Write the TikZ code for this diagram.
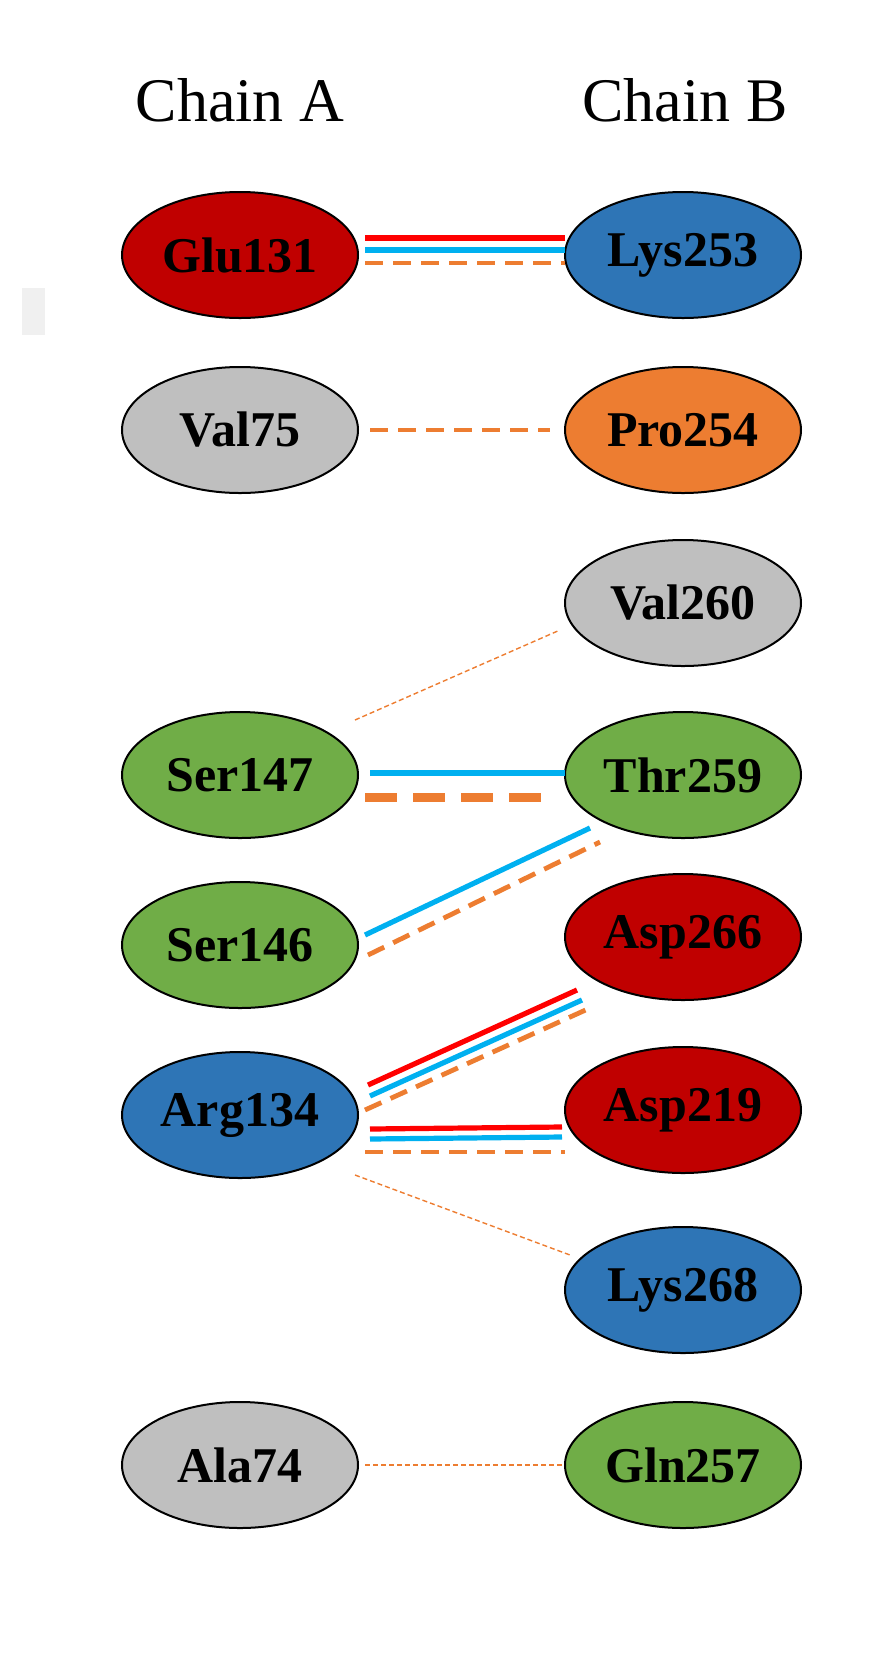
\documentclass[tikz,border=0pt]{standalone}
\usepackage{fontspec}
\setmainfont{Liberation Serif}
\usetikzlibrary{shapes.geometric}
\begin{document}
\begin{tikzpicture}[x=0.5pt,y=-0.5pt,
 res/.style={ellipse,draw=black,line width=1pt,minimum width=118pt,minimum height=63pt,inner sep=0pt,font=\fontsize{25}{25}\selectfont\bfseries},
 ttl/.style={font=\fontsize{31}{31}\selectfont},
 hb/.style={line width=2.6pt,draw=lblue},
 sb/.style={line width=2.6pt,draw=lred},
 hp/.style={line width=2.4pt,draw=lorange,dash pattern=on 9pt off 5pt},
 vdw/.style={line width=0.7pt,draw=lorange,dash pattern=on 2.5pt off 1.5pt}]
\definecolor{cred}{HTML}{C00000}\definecolor{cblue}{HTML}{2E75B6}
\definecolor{cgrey}{HTML}{BFBFBF}\definecolor{corange}{HTML}{ED7D31}
\definecolor{cgreen}{HTML}{70AD47}\definecolor{lred}{HTML}{FF0000}
\definecolor{lblue}{HTML}{00B0F0}\definecolor{lorange}{HTML}{ED7D31}
\useasboundingbox (0,0) rectangle (891,1672);
\fill[black!6] (22,288) rectangle (45,335);
\node[ttl] (ta) at (240,100) {Chain A};
\node[ttl] (tb) at (685,100) {Chain B};
\node[res,fill=cred] (glu) at (240,255) {Glu131};
\node[res,fill=cblue] (lys253) at (683,255) {Lys253};
\node[res,fill=cgrey] (val75) at (240,430) {Val75};
\node[res,fill=corange] (pro) at (683,430) {Pro254};
\node[res,fill=cgrey] (val260) at (683,603) {Val260};
\node[res,fill=cgreen] (ser147) at (240,775) {Ser147};
\node[res,fill=cgreen] (thr) at (683,775) {Thr259};
\node[res,fill=cgreen] (ser146) at (240,945) {Ser146};
\node[res,fill=cred] (asp266) at (683,937) {Asp266};
\node[res,fill=cblue] (arg) at (240,1115) {Arg134};
\node[res,fill=cred] (asp219) at (683,1110) {Asp219};
\node[res,fill=cblue] (lys268) at (683,1290) {Lys268};
\node[res,fill=cgrey] (ala) at (240,1465) {Ala74};
\node[res,fill=cgreen] (gln) at (683,1465) {Gln257};
\draw[sb] (365,238) -- (565,238);
\draw[hb] (365,250) -- (565,250);
\draw[hp] (365,263) -- (565,263);
\draw[hp] (370,430) -- (550,430);
\draw[vdw] (355,720) -- (560,630);
\draw[hb] (370,773) -- (565,773);
\draw[line width=4.5pt,draw=lorange,dash pattern=on 16pt off 8pt] (365,797) -- (550,797);
\draw[hb] (365,935) -- (590,828);
\draw[hp] (368,955) -- (600,842);
\draw[sb] (368,1085) -- (577,990);
\draw[hb] (370,1096) -- (582,1000);
\draw[hp] (365,1110) -- (590,1008);
\draw[sb] (370,1129) -- (562,1127);
\draw[hb] (370,1139) -- (562,1137);
\draw[hp] (365,1152) -- (565,1152);
\draw[vdw] (355,1175) -- (570,1255);
\draw[vdw] (365,1465) -- (565,1465);
\end{tikzpicture}
\end{document}
